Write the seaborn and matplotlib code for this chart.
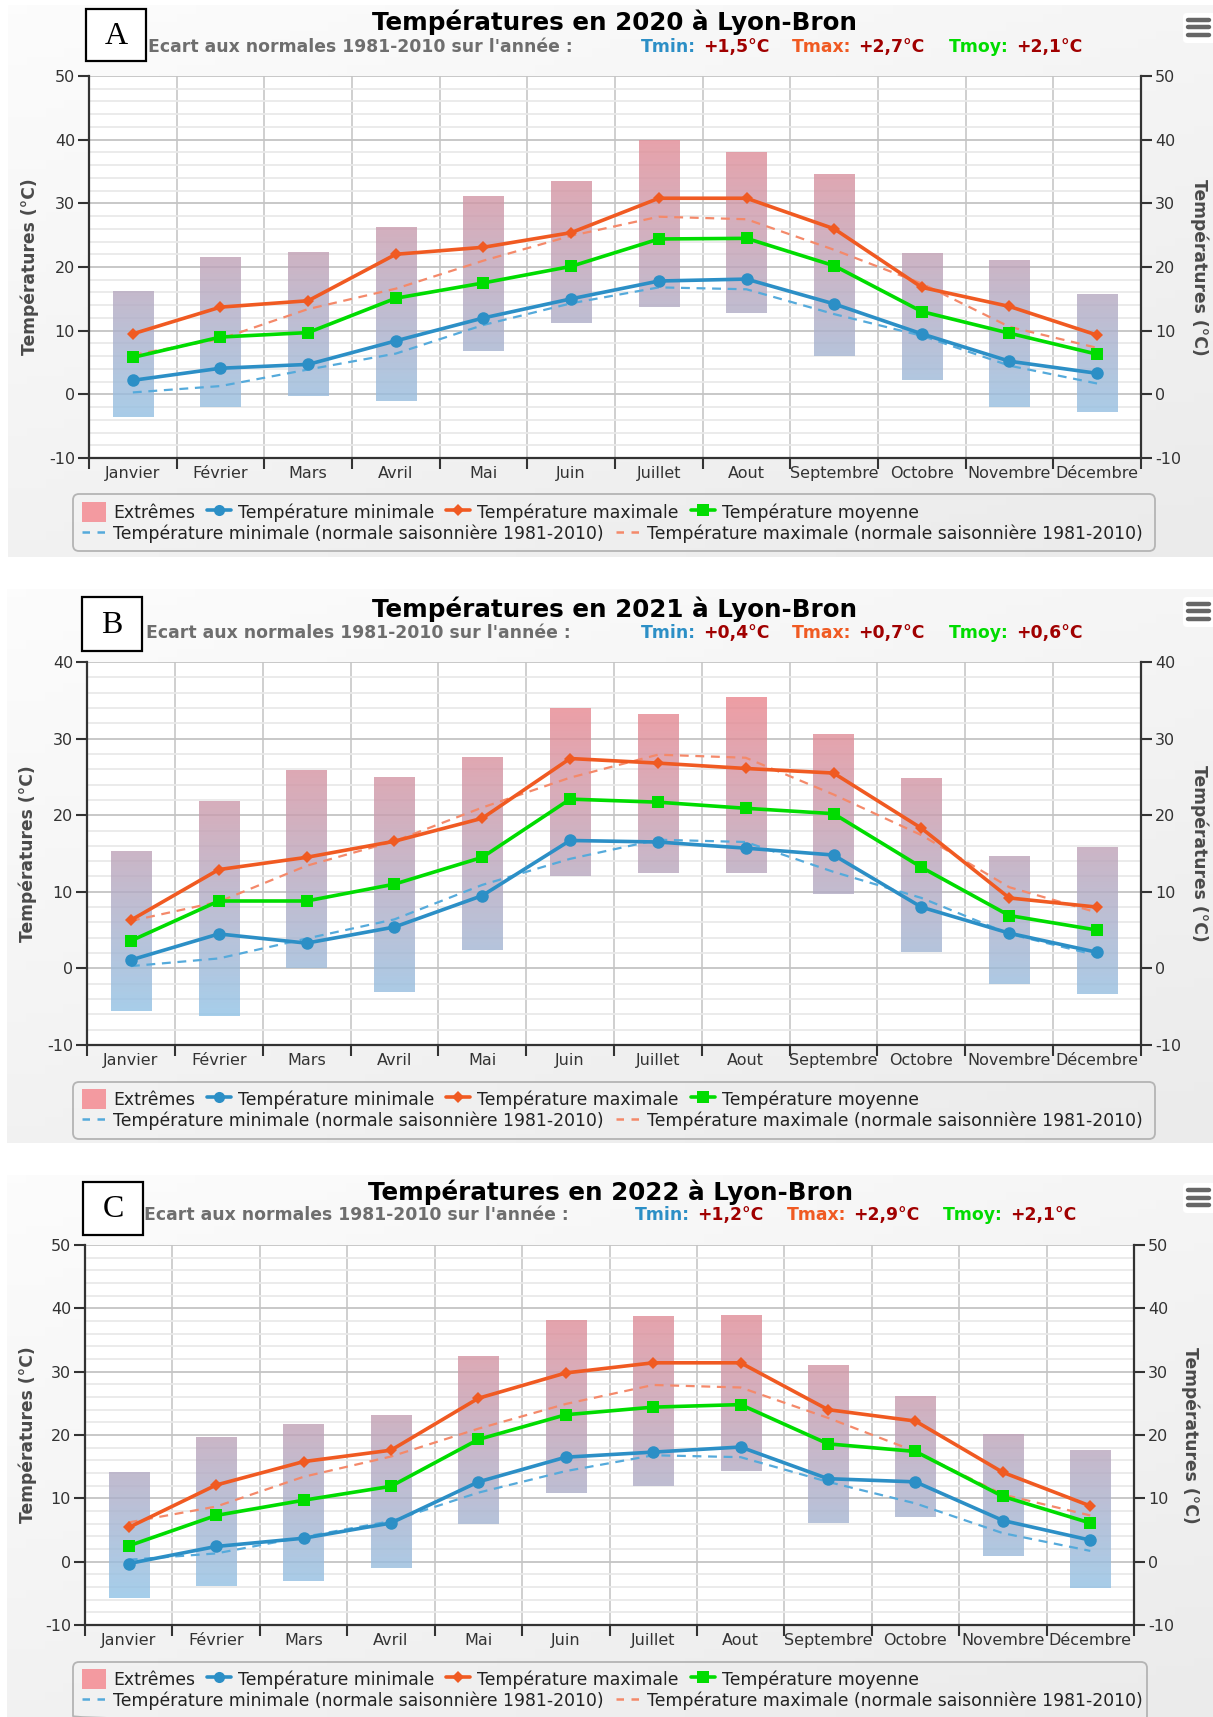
from __future__ import annotations

import matplotlib

matplotlib.use("Agg")

import matplotlib.pyplot as plt
import matplotlib.transforms as mtransforms
import numpy as np
import seaborn as sns
from matplotlib.colors import LinearSegmentedColormap
from matplotlib.lines import Line2D
from matplotlib.patches import FancyBboxPatch, Patch, Rectangle

MONTHS = ["Janvier", "Février", "Mars", "Avril", "Mai", "Juin", "Juillet", "Aout",
          "Septembre", "Octobre", "Novembre", "Décembre"]

# normales 1981-2010 (identiques sur les trois graphiques)
NORMAL_MIN = [0.3, 1.3, 3.9, 6.4, 10.9, 14.3, 16.8, 16.5, 12.6, 9.2, 4.5, 1.7]
NORMAL_MAX = [6.2, 8.7, 13.4, 16.6, 21.0, 24.9, 27.9, 27.5, 22.7, 17.4, 10.6, 7.3]

TMIN_2020 = [2.2, 4.1, 4.7, 8.4, 12.0, 15.0, 17.8, 18.1, 14.2, 9.5, 5.2, 3.3]
TMAX_2020 = [9.5, 13.7, 14.7, 22.0, 23.1, 25.4, 30.8, 30.8, 26.0, 16.8, 13.8, 9.3]
TMOY_2020 = [5.8, 9.0, 9.7, 15.1, 17.5, 20.1, 24.4, 24.5, 20.2, 13.0, 9.6, 6.3]
EXT_LOW_2020 = [-3.5, -2.0, -0.2, -1.1, 6.8, 11.2, 13.7, 12.7, 6.0, 2.3, -2.0, -2.7]
EXT_HIGH_2020 = [16.2, 21.6, 22.4, 26.3, 31.2, 33.5, 40.0, 38.1, 34.6, 22.2, 21.1, 15.7]
ECART_2020 = ["+1,5°C", "+2,7°C", "+2,1°C"]

TMIN_2021 = [1.1, 4.5, 3.3, 5.4, 9.5, 16.7, 16.5, 15.7, 14.8, 8.0, 4.6, 2.1]
TMAX_2021 = [6.3, 12.9, 14.5, 16.6, 19.6, 27.4, 26.8, 26.1, 25.5, 18.3, 9.2, 8.0]
TMOY_2021 = [3.6, 8.8, 8.8, 11.0, 14.5, 22.1, 21.7, 20.9, 20.2, 13.2, 6.9, 5.0]
EXT_LOW_2021 = [-5.5, -6.2, 0.1, -3.1, 2.4, 12.1, 12.5, 12.5, 9.7, 2.2, -2.0, -3.4]
EXT_HIGH_2021 = [15.3, 21.9, 25.9, 25.0, 27.6, 34.0, 33.2, 35.4, 30.6, 24.8, 14.7, 15.9]
ECART_2021 = ["+0,4°C", "+0,7°C", "+0,6°C"]

TMIN_2022 = [-0.3, 2.4, 3.7, 6.1, 12.6, 16.5, 17.3, 18.1, 13.1, 12.6, 6.5, 3.4]
TMAX_2022 = [5.4, 12.1, 15.8, 17.6, 25.8, 29.8, 31.4, 31.4, 24.0, 22.2, 14.1, 8.8]
TMOY_2022 = [2.5, 7.3, 9.7, 11.9, 19.3, 23.2, 24.4, 24.8, 18.6, 17.4, 10.3, 6.1]
EXT_LOW_2022 = [-5.7, -3.8, -3.0, -1.0, 5.9, 10.9, 11.9, 14.3, 6.1, 7.1, 0.9, -4.2]
EXT_HIGH_2022 = [14.1, 19.7, 21.7, 23.1, 32.5, 38.2, 38.8, 38.9, 31.0, 26.2, 20.1, 17.6]
ECART_2022 = ["+1,2°C", "+2,9°C", "+2,1°C"]

C_MIN = "#2c8fc6"
C_MAX = "#f05a22"
C_MOY = "#00dc00"
C_NMIN = "#55aadb"
C_NMAX = "#f4896a"
C_ECART = "#a00000"
C_EXT_LEG = "#f39aa0"

W, H = 1213, 1717

# pixel layout of each panel (y from the top of the image)
LAYOUT = {
    "A": dict(panel=(8, 5, 1213, 557), plot=(89, 76, 1141, 458), box=(86, 9, 146, 61),
              title=(614, 22), sub_y=47, sub_x=(148, 641, 792, 949),
              legend=(73, 494, 1155, 551), rows=(512, 534), ylab_x=(30, 1199)),
    "B": dict(panel=(7, 589, 1213, 1143), plot=(87, 662, 1141, 1045), box=(82, 597, 142, 651),
              title=(614, 609), sub_y=633, sub_x=(146, 641, 792, 949),
              legend=(73, 1082, 1155, 1139), rows=(1099, 1121), ylab_x=(28, 1199)),
    "C": dict(panel=(7, 1175, 1213, 1717), plot=(85, 1245, 1134, 1625), box=(83, 1182, 143, 1235),
              title=(610, 1192), sub_y=1215, sub_x=(144, 635, 787, 943),
              legend=(73, 1662, 1147, 1722), rows=(1679, 1701), ylab_x=(28, 1190)),
}

sns.set_theme(style="white")
plt.rcParams["font.family"] = ["DejaVu Sans"]
plt.rcParams["axes.unicode_minus"] = False

fig = plt.figure(figsize=(W / 100, H / 100), dpi=100)
fig.patch.set_facecolor("white")
# pixel coordinates, y pointing down
PX = mtransforms.Affine2D().scale(1, -1).translate(0, H).scale(1 / W, 1 / H) + fig.transFigure

BAR_CMAP = LinearSegmentedColormap.from_list("ext", ["#88c8ee", "#f47f84"])
BG_CMAP = LinearSegmentedColormap.from_list("bg", ["#fcfcfc", "#ebebeb"])


def rect(x0, y0, x1, y1):
    return [x0 / W, 1 - y1 / H, (x1 - x0) / W, (y1 - y0) / H]


def draw_panel(letter, year, ymax, tmin, tmax, tmoy, low, high, ecart):
    lay = LAYOUT[letter]
    x = np.arange(len(MONTHS))

    # background of the chart container
    bg = fig.add_axes(rect(*lay["panel"]), zorder=-5)
    gx, gy = np.meshgrid(np.linspace(0, 1, 64), np.linspace(0, 1, 64))
    bg.imshow(0.4 * gx + 0.6 * gy, cmap=BG_CMAP, aspect="auto", extent=(0, 1, 0, 1))
    bg.axis("off")

    ax = fig.add_axes(rect(*lay["plot"]), zorder=0)
    ax.set_facecolor("white")

    bars = ax.bar(x, np.subtract(high, low), bottom=low, width=0.46,
                  color="none", linewidth=0, zorder=1)
    grad = np.linspace(0, 1, 256).reshape(-1, 1)
    for bar in bars:
        im = ax.imshow(grad, cmap=BAR_CMAP, vmin=0, vmax=1, origin="lower",
                       extent=(0, 1, 0, 1), transform=ax.transAxes, aspect="auto",
                       alpha=0.8, zorder=1, interpolation="bilinear")
        im.set_clip_path(bar)

    sns.lineplot(x=x, y=NORMAL_MIN, ax=ax, color=C_NMIN, linewidth=1.6, zorder=2)
    ax.lines[-1].set_dashes([4, 3])
    sns.lineplot(x=x, y=NORMAL_MAX, ax=ax, color=C_NMAX, linewidth=1.6, zorder=2)
    ax.lines[-1].set_dashes([4, 3])

    sns.lineplot(x=x, y=tmin, ax=ax, color=C_MIN, linewidth=2.6, marker="o",
                 markersize=9, markeredgewidth=0, zorder=4)
    sns.lineplot(x=x, y=tmax, ax=ax, color=C_MAX, linewidth=2.6, marker="D",
                 markersize=6.5, markeredgewidth=0, zorder=4)
    sns.lineplot(x=x, y=tmoy, ax=ax, color=C_MOY, linewidth=2.6, marker="s",
                 markersize=9, markeredgewidth=0, zorder=4)

    ax.set_xlim(-0.5, len(MONTHS) - 0.5)
    ax.set_ylim(-10, ymax)
    ax.set_xlabel("")
    ax.set_ylabel("")

    ax.set_yticks(np.arange(-10, ymax + 1, 10))
    ax.set_yticks(np.arange(-10, ymax + 1, 2), minor=True)
    ax.set_xticks(np.arange(-0.5, len(MONTHS), 1))
    ax.set_xticklabels([])
    ax.set_xticks(x, minor=True)
    ax.set_xticklabels(MONTHS, minor=True)

    ax.tick_params(axis="y", which="major", direction="out", length=8, width=1.5,
                   color="#333333", labelsize=11.5, labelcolor="#333333", pad=2, left=True)
    ax.tick_params(axis="y", which="minor", length=0)
    ax.tick_params(axis="x", which="major", direction="out", length=8, width=1.5,
                   color="#333333", bottom=True)
    ax.tick_params(axis="x", which="minor", length=0, pad=6, labelsize=11.5,
                   labelcolor="#333333")

    ax.set_axisbelow(True)
    ax.grid(True, axis="x", which="major", color="#cbcbcb", linewidth=1.3)
    ax.grid(True, axis="y", which="minor", color="#e9e9e9", linewidth=1.3)
    ax.grid(True, axis="y", which="major", color="#c4c4c4", linewidth=1.3)

    for side in ("top", "right"):
        ax.spines[side].set_visible(False)
    for side in ("left", "bottom"):
        ax.spines[side].set_color("#333333")
        ax.spines[side].set_linewidth(1.6)

    ax2 = ax.twinx()
    ax2.set_ylim(-10, ymax)
    ax2.set_yticks(np.arange(-10, ymax + 1, 10))
    ax2.tick_params(axis="y", direction="out", length=8, width=1.5, color="#333333",
                    labelsize=11.5, labelcolor="#333333", pad=2, right=True)
    for side in ("top", "left", "bottom"):
        ax2.spines[side].set_visible(False)
    ax2.spines["right"].set_color("#333333")
    ax2.spines["right"].set_linewidth(1.6)
    ax2.grid(False)

    # axis titles
    y_mid = (lay["plot"][1] + lay["plot"][3]) / 2
    fig.text(lay["ylab_x"][0], y_mid, "Températures (°C)", transform=PX, rotation=90,
             ha="center", va="center", fontsize=12.3, fontweight="bold", color="#4a4a4a")
    fig.text(lay["ylab_x"][1], y_mid, "Températures (°C)", transform=PX, rotation=270,
             ha="center", va="center", fontsize=12.3, fontweight="bold", color="#4a4a4a")

    # title and subtitle
    fig.text(lay["title"][0], lay["title"][1], f"Températures en {year} à Lyon-Bron",
             transform=PX, ha="center", va="center", fontsize=17.7, fontweight="bold",
             color="black")
    sy = lay["sub_y"]
    fig.text(lay["sub_x"][0], sy, "Ecart aux normales 1981-2010 sur l'année :",
             transform=PX, ha="left", va="center", fontsize=12.4, fontweight="bold",
             color="#6e6e6e")
    for sx, name, col, val in zip(lay["sub_x"][1:], ["Tmin:", "Tmax:", "Tmoy:"],
                                  [C_MIN, C_MAX, C_MOY], ecart):
        t = fig.text(sx, sy, name, transform=PX, ha="left", va="center",
                     fontsize=12.4, fontweight="bold", color=col)
        ax.annotate(val, xy=(1, 0), xycoords=t, xytext=(5, 0), textcoords="offset points",
                    ha="left", va="bottom", fontsize=12.4, fontweight="bold",
                    color=C_ECART, annotation_clip=False)

    # letter box
    bx0, by0, bx1, by1 = lay["box"]
    fig.add_artist(Rectangle((bx0, by0), bx1 - bx0, by1 - by0, transform=PX,
                             facecolor="white", edgecolor="black", linewidth=1.6, zorder=6))
    fig.text((bx0 + bx1) / 2, (by0 + by1) / 2 + 1, letter, transform=PX, ha="center",
             va="center", fontsize=23, family=["Liberation Serif"], color="black", zorder=7)

    # export menu icon
    py = lay["panel"][1]
    fig.add_artist(FancyBboxPatch((1183, py + 8), 40, 30, transform=PX,
                                  boxstyle="round,pad=0,rounding_size=4",
                                  facecolor="white", edgecolor="none", zorder=6))
    for dy in (15, 22.5, 30):
        fig.add_artist(Line2D([1188, 1209], [py + dy, py + dy], transform=PX,
                              color="#666666", linewidth=3.2, zorder=7))

    # legend
    lx0, ly0, lx1, ly1 = lay["legend"]
    fig.add_artist(FancyBboxPatch((lx0, ly0), lx1 - lx0, ly1 - ly0, transform=PX,
                                  boxstyle="round,pad=0,rounding_size=6",
                                  facecolor="none", edgecolor="#b4b4b4", linewidth=1.3,
                                  zorder=4))
    row1 = [
        Patch(facecolor=C_EXT_LEG, edgecolor="none"),
        Line2D([], [], color=C_MIN, linewidth=2.6, marker="o", markersize=8,
               markeredgewidth=0),
        Line2D([], [], color=C_MAX, linewidth=2.6, marker="D", markersize=6,
               markeredgewidth=0),
        Line2D([], [], color=C_MOY, linewidth=2.6, marker="s", markersize=8,
               markeredgewidth=0),
    ]
    labels1 = ["Extrêmes", "Température minimale", "Température maximale",
               "Température moyenne"]
    row2 = [
        Line2D([], [], color=C_NMIN, linewidth=1.8, dashes=[3, 3]),
        Line2D([], [], color=C_NMAX, linewidth=1.8, dashes=[3, 3]),
    ]
    labels2 = ["Température minimale (normale saisonnière 1981-2010)",
               "Température maximale (normale saisonnière 1981-2010)"]
    for handles, labels, ry, hh in ((row1, labels1, lay["rows"][0], 1.35),
                                    (row2, labels2, lay["rows"][1], 1.0)):
        fig.legend(handles=handles, labels=labels, loc="center left",
                   bbox_to_anchor=(lx0 + 9, ry), bbox_transform=PX, ncol=len(handles),
                   frameon=False, fontsize=12.4, handlelength=1.4, handleheight=hh,
                   handletextpad=0.4, columnspacing=0.7, borderpad=0, borderaxespad=0,
                   labelcolor="#222222")


draw_panel("A", 2020, 50, TMIN_2020, TMAX_2020, TMOY_2020, EXT_LOW_2020, EXT_HIGH_2020,
           ECART_2020)
draw_panel("B", 2021, 40, TMIN_2021, TMAX_2021, TMOY_2021, EXT_LOW_2021, EXT_HIGH_2021,
           ECART_2021)
draw_panel("C", 2022, 50, TMIN_2022, TMAX_2022, TMOY_2022, EXT_LOW_2022, EXT_HIGH_2022,
           ECART_2022)

fig.savefig("out.png", dpi=100, facecolor="white")
plt.close(fig)
